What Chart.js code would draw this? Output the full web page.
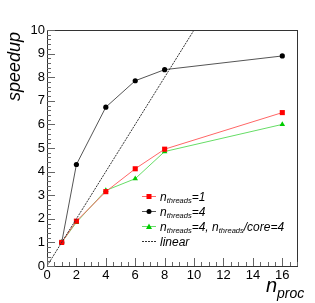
<!DOCTYPE html>
<html lang="en">
<head>
  <meta charset="UTF-8">
  <title>speedup vs nproc</title>
  <style>
    html, body { margin: 0; padding: 0; background: #ffffff; }
    #wrap { width: 315px; height: 303px; }
  </style>
  <script src="https://cdn.jsdelivr.net/npm/chart.js"></script>
</head>
<body>
  <div id="wrap"><canvas id="chart" width="315" height="303"></canvas></div>
  <script>
    // data
    const nProc = [1, 2, 4, 6, 8, 16];
    const threads1 = [1.0, 1.9, 3.15, 4.12, 4.95, 6.5];
    const threads4 = [1.0, 4.3, 6.73, 7.85, 8.32, 8.9];
    const threads4core4 = [1.0, 1.85, 3.2, 3.7, 4.85, 6.0];
    const linearX = [0, 10];
    const linearY = [0, 10];
    const xTicks = [0, 2, 4, 6, 8, 10, 12, 14, 16];
    const yTicks = [0, 1, 2, 3, 4, 5, 6, 7, 8, 9, 10];

    function pts(xs, ys) {
      return xs.map((x, i) => ({ x: x, y: ys[i] }));
    }

    const legendItems = [
      { color: '#ff0000', line: '#ff6666', marker: 'rect', parts: [['n', 0], ['threads', 1], ['=1', 0]] },
      { color: '#000000', line: '#555555', marker: 'circle', parts: [['n', 0], ['threads', 1], ['=4', 0]] },
      { color: '#00cc00', line: '#66dd66', marker: 'triangle', parts: [['n', 0], ['threads', 1], ['=4, n', 0], ['threads', 1], ['/core=4', 0]] },
      { color: '#000000', line: '#333333', marker: null, dash: true, parts: [['linear', 0]] }
    ];

    // frame, inner ticks, labels and legend, ROOT style
    const rootAxes = {
      id: 'rootAxes',
      afterDraw(chart) {
        const ctx = chart.ctx;
        const a = chart.chartArea;
        const xs = chart.scales.x;
        const ys = chart.scales.y;
        ctx.save();
        ctx.strokeStyle = '#333333';
        ctx.lineWidth = 1;
        ctx.strokeRect(Math.round(a.left) + 0.5, Math.round(a.top) + 0.5, Math.round(a.right - a.left), Math.round(a.bottom - a.top));

        ctx.strokeStyle = '#666666';
        ctx.beginPath();
        for (let v = 0; v <= 17.001; v += 0.5) {
          const px = Math.round(xs.getPixelForValue(v)) + 0.5;
          const len = (Math.abs(v % 2) < 0.01) ? 8 : 4;
          ctx.moveTo(px, a.bottom);
          ctx.lineTo(px, a.bottom - len);
        }
        for (let v = 0; v <= 10.001; v += 0.2) {
          const py = Math.round(ys.getPixelForValue(v)) + 0.5;
          const r = Math.round(v * 5) % 5;
          const len = r === 0 ? 8 : 4;
          ctx.moveTo(a.left, py);
          ctx.lineTo(a.left + len, py);
        }
        ctx.stroke();

        ctx.fillStyle = '#000000';
        ctx.font = '13px "Liberation Sans", Arial, sans-serif';
        ctx.textAlign = 'center';
        ctx.textBaseline = 'top';
        xTicks.forEach(v => {
          ctx.fillText(String(v), xs.getPixelForValue(v), a.bottom + 3);
        });
        ctx.textAlign = 'right';
        ctx.textBaseline = 'middle';
        yTicks.forEach(v => {
          ctx.fillText(String(v), a.left - 2, ys.getPixelForValue(v));
        });

        // axis titles
        ctx.save();
        ctx.translate(20, a.top + 2);
        ctx.rotate(-Math.PI / 2);
        ctx.font = 'italic 18px "Liberation Sans", Arial, sans-serif';
        ctx.textAlign = 'right';
        ctx.textBaseline = 'alphabetic';
        ctx.fillText('speedup', 0, 0);
        ctx.restore();

        ctx.textAlign = 'left';
        ctx.textBaseline = 'alphabetic';
        ctx.font = 'italic 20px "Liberation Sans", Arial, sans-serif';
        ctx.fillText('n', 266, 292);
        ctx.font = 'italic 14px "Liberation Sans", Arial, sans-serif';
        ctx.fillText('proc', 277, 298);

        // legend
        const rowY = [196, 211, 226, 241];
        legendItems.forEach((it, i) => {
          const y = rowY[i] + 0.5;
          ctx.strokeStyle = it.line;
          ctx.lineWidth = 1;
          ctx.setLineDash(it.dash ? [2, 1] : []);
          ctx.beginPath();
          ctx.moveTo(142, y);
          ctx.lineTo(156, y);
          ctx.stroke();
          ctx.setLineDash([]);
          ctx.fillStyle = it.color;
          if (it.marker === 'rect') {
            ctx.fillRect(146.5, y - 2.5, 5, 5);
          } else if (it.marker === 'circle') {
            ctx.beginPath();
            ctx.arc(149, y, 2.5, 0, Math.PI * 2);
            ctx.fill();
          } else if (it.marker === 'triangle') {
            ctx.beginPath();
            ctx.moveTo(149, y - 3);
            ctx.lineTo(152, y + 2.5);
            ctx.lineTo(146, y + 2.5);
            ctx.closePath();
            ctx.fill();
          }
          let tx = 160;
          ctx.fillStyle = '#000000';
          it.parts.forEach(p => {
            if (p[1]) {
              ctx.font = 'italic 7.5px "Liberation Sans", Arial, sans-serif';
              ctx.fillText(p[0], tx, y + 6);
            } else {
              ctx.font = 'italic 12px "Liberation Sans", Arial, sans-serif';
              ctx.fillText(p[0], tx, y + 4);
            }
            tx += ctx.measureText(p[0]).width;
          });
        });
        ctx.restore();
      }
    };

    new Chart(document.getElementById('chart').getContext('2d'), {
      type: 'scatter',
      data: {
        datasets: [
          {
            label: 'linear',
            data: pts(linearX, linearY),
            showLine: true,
            borderColor: '#333333',
            borderWidth: 1,
            borderDash: [2, 1],
            pointRadius: 0,
            fill: false
          },
          {
            label: 'nthreads=1',
            data: pts(nProc, threads1),
            showLine: true,
            borderColor: '#ff6666',
            borderWidth: 1,
            pointStyle: 'rect',
            pointRadius: 3.6,
            pointBackgroundColor: '#ff0000',
            pointBorderColor: '#ff0000',
            pointBorderWidth: 0,
            fill: false
          },
          {
            label: 'nthreads=4',
            data: pts(nProc, threads4),
            showLine: true,
            borderColor: '#555555',
            borderWidth: 1,
            pointStyle: 'circle',
            pointRadius: 2.6,
            pointBackgroundColor: '#000000',
            pointBorderColor: '#000000',
            pointBorderWidth: 0,
            fill: false
          },
          {
            label: 'nthreads=4, nthreads/core=4',
            data: pts(nProc, threads4core4),
            showLine: true,
            borderColor: '#66dd66',
            borderWidth: 1,
            pointStyle: 'triangle',
            pointRadius: 3.2,
            pointBackgroundColor: '#00cc00',
            pointBorderColor: '#00cc00',
            pointBorderWidth: 0,
            fill: false
          }
        ]
      },
      options: {
        responsive: false,
        animation: false,
        layout: { padding: { left: 47, right: 18, top: 30, bottom: 37 } },
        plugins: { legend: { display: false }, tooltip: { enabled: false } },
        scales: {
          x: { type: 'linear', display: false, min: 0, max: 17 },
          y: { type: 'linear', display: false, min: 0, max: 10 }
        }
      },
      plugins: [rootAxes]
    });
  </script>
</body>
</html>
